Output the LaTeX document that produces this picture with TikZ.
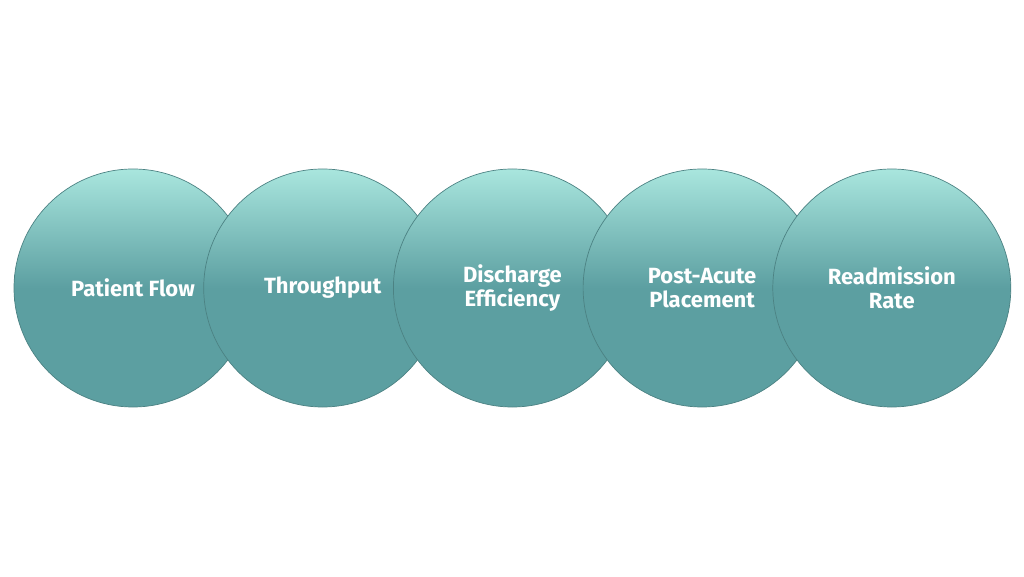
\documentclass[tikz,border=0pt]{standalone}
\usepackage{fontspec}
\setmainfont{Fira Sans}
\usepackage{tikz}
\usetikzlibrary{positioning}

\definecolor{aquatop}{HTML}{A9E6DE}
\definecolor{tealmid}{HTML}{5C9FA1}
\definecolor{rimline}{HTML}{4C8283}
% light at the top, flat teal from the middle down
\pgfdeclareverticalshading{bubbleshade}{100bp}{color(0bp)=(tealmid); color(50bp)=(tealmid); color(75bp)=(aquatop); color(100bp)=(aquatop)}

\begin{document}
\begin{tikzpicture}[x=1pt,y=1pt,node distance=-49pt]
    \tikzset{
        bubble/.style={circle,minimum size=238pt,inner sep=0pt,shading=bubbleshade,
            draw=rimline,line width=0.7pt,text=white,align=center,
            font=\fontsize{22}{24}\selectfont\bfseries}
    }
    \useasboundingbox (0,0) rectangle (1024,576);

    \node [bubble] (flow) at (133,288) {Patient Flow};
    \node [bubble] (through) [right=of flow] {Throughput};
    \node [bubble] (discharge) [right=of through] {Discharge\\Efficiency};
    \node [bubble] (postacute) [right=of discharge] {Post-Acute\\Placement};
    \node [bubble] (readmit) [right=of postacute] {Readmission\\Rate};

\end{tikzpicture}
\end{document}
